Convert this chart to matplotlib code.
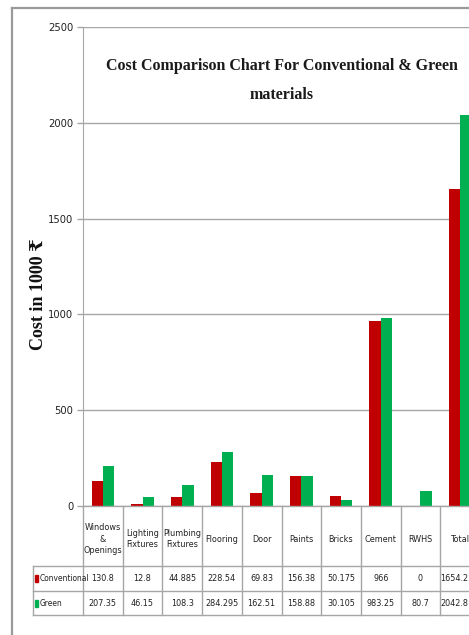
"""Cost comparison chart: conventional vs green materials (bars + data table)."""
import matplotlib
matplotlib.use("Agg")
import matplotlib.pyplot as plt
from matplotlib import font_manager as fm
from matplotlib.lines import Line2D
from matplotlib.patches import Rectangle

# --- data ------------------------------------------------------------------ #
categories = ["Windows\n&\nOpenings", "Lighting\nFixtures", "Plumbing\nFixtures",
              "Flooring", "Door", "Paints", "Bricks", "Cement", "RWHS", "Total"]
conventional = [130.8, 12.8, 44.885, 228.54, 69.83, 156.38, 50.175, 966, 0, 1654.2]
green = [207.35, 46.15, 108.3, 284.295, 162.51, 158.88, 30.105, 983.25, 80.7, 2042.8]
series_names = ["Conventional", "Green"]
yticks = [0, 500, 1000, 1500, 2000, 2500]

RED, GREEN, GRID = "#C00000", "#00B050", "#A6A6A6"
SERIF = ["Liberation Serif", "DejaVu Serif", "DejaVu Sans"]


def _narrow_font():
    """pick a condensed sans if one is installed (Calibri-ish look), else Liberation Sans"""
    for f in fm.fontManager.ttflist:
        cond = "condensed" in str(f.stretch).lower() or "Narrow" in f.name \
            or "Condensed" in f.name
        if cond and f.style == "normal" and f.weight in (400, "normal", "regular"):
            return fm.FontProperties(fname=f.fname)
    return fm.FontProperties(family=["Liberation Sans", "DejaVu Sans"])


NARROW = _narrow_font()

W, H = 469, 635
fig = plt.figure(figsize=(W / 100, H / 100), dpi=100)


def px(x0, y0, x1, y1):
    """pixel box (top-left origin) -> figure-fraction rect"""
    return [x0 / W, (H - y1) / H, (x1 - x0) / W, (y1 - y0) / H]


def nfont(size):
    p = NARROW.copy()
    p.set_size(size)
    return p


# outer chart frame (cropped on the right/bottom)
fig.add_artist(Line2D([12 / W, 12 / W], [0, (H - 8) / H], color="#9a9a9a", lw=1.6))
fig.add_artist(Line2D([12 / W, 1], [(H - 8) / H, (H - 8) / H], color="#9a9a9a", lw=1.6))

# --- bars ------------------------------------------------------------------ #
ax = fig.add_axes(px(83, 27, 480, 506))
bw = 0.285
xs = range(len(categories))
ax.bar([i - bw / 2 for i in xs], conventional, bw, color=RED, zorder=3)
ax.bar([i + bw / 2 for i in xs], green, bw, color=GREEN, zorder=3)
ax.set_xlim(-0.5, len(categories) - 0.5)
ax.set_ylim(0, 2500)
ax.set_yticks(yticks)
ax.set_yticklabels([str(t) for t in yticks], fontproperties=nfont(8))
ax.tick_params(axis="y", length=4, width=1, color=GRID, pad=3, labelcolor="#222222")
ax.set_xticks([])
ax.grid(axis="y", color=GRID, lw=1.0)
ax.set_axisbelow(True)
for s in ["top", "right", "bottom"]:
    ax.spines[s].set_visible(False)
ax.spines["left"].set_color(GRID)

ax.text(0.5, 0.889, "Cost Comparison Chart For Conventional & Green\nmaterials",
        transform=ax.transAxes, ha="center", va="center", family=SERIF,
        fontsize=11.5, fontweight="bold", linespacing=2.1, color="#1a1a1a")
fig.text(38 / W, (H - 294) / H, "Cost in 1000 \u20b9", rotation=90, ha="center",
         va="center", family=SERIF, fontsize=13, fontweight="bold", color="#111111")

# --- data table ------------------------------------------------------------ #
tb = fig.add_axes(px(83, 506, 480, 615))
n = len(categories)
tb.set_xlim(-0.5, n - 0.5)
tb.set_ylim(109, 0)
tb.axis("off")
left = -0.5 - 50 / 39.7  # legend column starts ~50px left of the axis
lkw = dict(color=GRID, lw=1.0, clip_on=False)
tb.plot([-0.5, n - 0.5], [0, 0], **lkw)
for y in (60, 85, 109):
    tb.plot([left, n - 0.5], [y, y], **lkw)
for b in range(n + 1):
    tb.plot([b - 0.5, b - 0.5], [0, 109], **lkw)
tb.plot([left, left], [60, 109], **lkw)

tkw = dict(ha="center", va="center", fontproperties=nfont(6.5), color="#222222",
           clip_on=False)
for i, lab in enumerate(categories):
    tb.text(i, 33, lab, linespacing=1.35, **tkw)
for row_y, vals in ((72.5, conventional), (97, green)):
    for i, v in enumerate(vals):
        # last column is cropped at the picture edge in the source; nudge it in
        tb.text(i - (0.14 if i == n - 1 else 0), row_y, f"{v:g}", **tkw)

for row_y, name, col in ((72.5, series_names[0], RED), (97, series_names[1], GREEN)):
    tb.add_patch(Rectangle((left + 0.05, row_y - 3.5), 0.08, 7, color=col,
                           clip_on=False))
    tb.text(left + 0.16, row_y, name, ha="left", va="center", fontproperties=nfont(6),
            color="#222222", clip_on=False)

fig.savefig("out.png", dpi=100)
